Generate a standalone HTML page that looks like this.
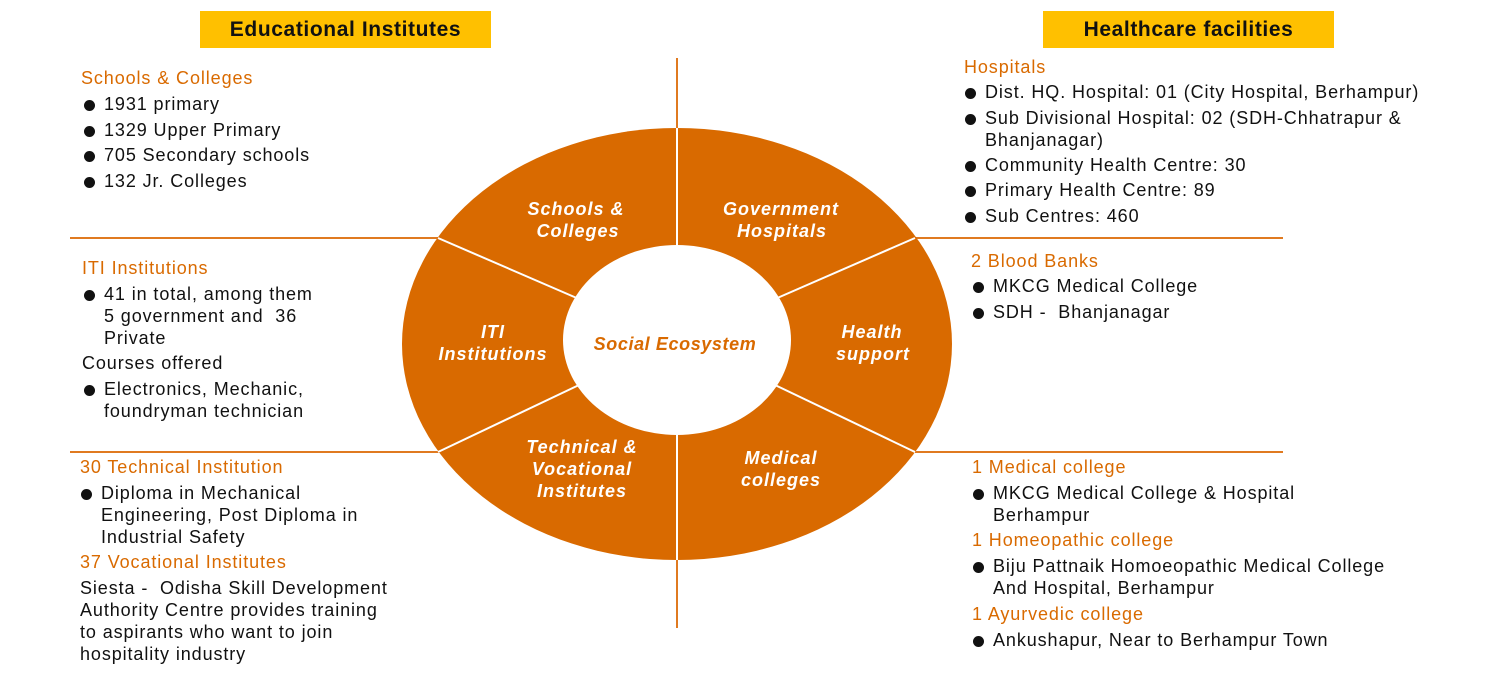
<!DOCTYPE html>
<html><head><meta charset="utf-8"><style>
body{margin:0;width:1495px;height:693px;background:#fff;position:relative;overflow:hidden;font-family:"Liberation Sans",sans-serif;}
.t{position:absolute;font-size:18px;color:#111;white-space:nowrap;letter-spacing:0.9px;}
.o{color:#D96A00;}
.b::before{content:"";position:absolute;left:-20px;top:6px;width:11px;height:11px;border-radius:50%;background:#111;}
.hdr{position:absolute;background:#FFC000;font-weight:bold;font-size:21px;letter-spacing:0.6px;color:#111;text-align:center;line-height:37px;height:37px;}
</style></head><body>
<div class="hdr" style="left:200px;top:11px;width:291px;">Educational Institutes</div>
<div class="hdr" style="left:1043px;top:11px;width:291px;">Healthcare facilities</div>

<svg width="1495" height="693" style="position:absolute;left:0;top:0">
<g stroke="#E07A20" stroke-width="2">
<line x1="677" y1="58" x2="677" y2="628"/>
<line x1="70" y1="238" x2="440" y2="238"/>
<line x1="915" y1="238" x2="1283" y2="238"/>
<line x1="70" y1="452" x2="440" y2="452"/>
<line x1="915" y1="452" x2="1283" y2="452"/>
</g>
<ellipse cx="677" cy="344" rx="275" ry="216" fill="#D96A00"/>
<g stroke="#fff" stroke-width="2">
<line x1="677" y1="128" x2="677" y2="560"/>
<line x1="438" y1="238" x2="579" y2="299"/>
<line x1="915" y1="238" x2="775" y2="299"/>
<line x1="438" y1="452" x2="579" y2="385"/>
<line x1="915" y1="452" x2="775" y2="385"/>
</g>
<ellipse cx="677" cy="340" rx="114" ry="95" fill="#fff"/>
<g font-family="Liberation Sans" font-weight="bold" font-style="italic" font-size="18" fill="#fff" text-anchor="middle" letter-spacing="1">
<text x="576" y="215">Schools &amp;</text><text x="578" y="237">Colleges</text>
<text x="781" y="215">Government</text><text x="782" y="237">Hospitals</text>
<text x="493" y="338">ITI</text><text x="493" y="360">Institutions</text>
<text x="872" y="338">Health</text><text x="873" y="360">support</text>
<text x="582" y="453">Technical &amp;</text><text x="582" y="475">Vocational</text><text x="582" y="497">Institutes</text>
<text x="781" y="464">Medical</text><text x="781" y="486">colleges</text>
<text x="675" y="350" fill="#D96A00" letter-spacing="0.6">Social Ecosystem</text>
</g>
</svg>

<div class="t o" style="left:81px;top:68px">Schools &amp; Colleges</div>
<div class="t b" style="left:104px;top:94px">1931 primary</div>
<div class="t b" style="left:104px;top:120px">1329 Upper Primary</div>
<div class="t b" style="left:104px;top:145px">705 Secondary schools</div>
<div class="t b" style="left:104px;top:171px">132 Jr. Colleges</div>

<div class="t o" style="left:82px;top:258px">ITI Institutions</div>
<div class="t b" style="left:104px;top:284px">41 in total, among them</div>
<div class="t" style="left:104px;top:306px">5 government and&nbsp; 36</div>
<div class="t" style="left:104px;top:328px">Private</div>
<div class="t" style="left:82px;top:353px">Courses offered</div>
<div class="t b" style="left:104px;top:379px">Electronics, Mechanic,</div>
<div class="t" style="left:104px;top:401px">foundryman technician</div>

<div class="t o" style="left:80px;top:457px">30 Technical Institution</div>
<div class="t b" style="left:101px;top:483px">Diploma in Mechanical</div>
<div class="t" style="left:101px;top:505px">Engineering, Post Diploma in</div>
<div class="t" style="left:101px;top:527px">Industrial Safety</div>
<div class="t o" style="left:80px;top:552px">37 Vocational Institutes</div>
<div class="t" style="left:80px;top:578px">Siesta -&nbsp; Odisha Skill Development</div>
<div class="t" style="left:80px;top:600px">Authority Centre provides training</div>
<div class="t" style="left:80px;top:622px">to aspirants who want to join</div>
<div class="t" style="left:80px;top:644px">hospitality industry</div>

<div class="t o" style="left:964px;top:57px">Hospitals</div>
<div class="t b" style="left:985px;top:82px">Dist. HQ. Hospital: 01 (City Hospital, Berhampur)</div>
<div class="t b" style="left:985px;top:108px">Sub Divisional Hospital: 02 (SDH-Chhatrapur &amp;</div>
<div class="t" style="left:985px;top:130px">Bhanjanagar)</div>
<div class="t b" style="left:985px;top:155px">Community Health Centre: 30</div>
<div class="t b" style="left:985px;top:180px">Primary Health Centre: 89</div>
<div class="t b" style="left:985px;top:206px">Sub Centres: 460</div>

<div class="t o" style="left:971px;top:251px">2 Blood Banks</div>
<div class="t b" style="left:993px;top:276px">MKCG Medical College</div>
<div class="t b" style="left:993px;top:302px">SDH -&nbsp; Bhanjanagar</div>

<div class="t o" style="left:972px;top:457px">1 Medical college</div>
<div class="t b" style="left:993px;top:483px">MKCG Medical College &amp; Hospital</div>
<div class="t" style="left:993px;top:505px">Berhampur</div>
<div class="t o" style="left:972px;top:530px">1 Homeopathic college</div>
<div class="t b" style="left:993px;top:556px">Biju Pattnaik Homoeopathic Medical College</div>
<div class="t" style="left:993px;top:578px">And Hospital, Berhampur</div>
<div class="t o" style="left:972px;top:604px">1 Ayurvedic college</div>
<div class="t b" style="left:993px;top:630px">Ankushapur, Near to Berhampur Town</div>
</body></html>
